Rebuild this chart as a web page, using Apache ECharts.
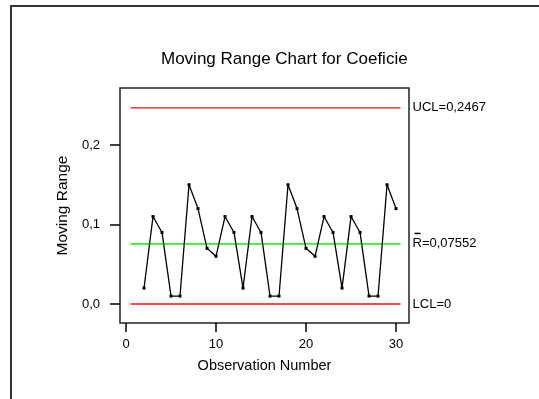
<!DOCTYPE html>
<html>
<head>
<meta charset="utf-8">
<script src="https://cdn.jsdelivr.net/npm/echarts@6/dist/echarts.min.js"></script>
<style>
  html, body { margin: 0; padding: 0; background: #fff; }
  #chart { width: 539px; height: 399px; }
</style>
</head>
<body>
<div id="chart"></div>
<script>
// observation numbers and moving ranges
const obs = [2, 3, 4, 5, 6, 7, 8, 9, 10, 11, 12, 13, 14, 15, 16, 17, 18, 19, 20, 21, 22, 23, 24, 25, 26, 27, 28, 29, 30];
const movingRange = [0.02, 0.11, 0.09, 0.01, 0.01, 0.15, 0.12, 0.07, 0.06, 0.11, 0.09, 0.02, 0.11, 0.09, 0.01,
  0.01, 0.15, 0.12, 0.07, 0.06, 0.11, 0.09, 0.02, 0.11, 0.09, 0.01, 0.01, 0.15, 0.12];

// control limits
const ucl = 0.2467;
const rBar = 0.07552;
const lcl = 0;
const limitSpan = [0.5, 30.5];

const xTicks = [0, 10, 20, 30];
const yTicks = [0, 0.1, 0.2];

const font = "'Liberation Sans', Arial, sans-serif";
const chart = echarts.init(document.getElementById("chart"));

const limitLine = (value, color, width, label, offset) => ({
  type: "line",
  data: limitSpan.map((x) => [x, value]),
  symbol: "none",
  silent: true,
  lineStyle: { color: color, width: width },
  endLabel: {
    show: true,
    formatter: label,
    distance: 12,
    offset: offset || [0, 0],
    color: "#000",
    fontSize: 13,
    fontFamily: font,
    rich: {
      // little bar drawn over the R
      sp: { width: 2, lineHeight: 4, fontSize: 4 },
      bar: { width: 6, height: 1.5, lineHeight: 4, fontSize: 4, backgroundColor: "#000" },
      txt: { fontSize: 13, fontFamily: font, color: "#000", lineHeight: 15 },
    },
  },
  z: 2,
});

chart.setOption({
  animation: false,
  backgroundColor: "#fff",
  title: {
    text: "Moving Range Chart for Coeficie",
    left: 156,
    top: 46,
    textStyle: { fontSize: 17, fontWeight: "normal", color: "#000", fontFamily: font },
  },
  graphic: [
    {
      type: "rect",
      shape: { x: 11, y: 6, width: 600, height: 500 },
      style: { fill: "none", stroke: "#333", lineWidth: 2 },
      silent: true,
    },
  ],
  grid: {
    left: 120,
    right: 130,
    top: 88,
    bottom: 76,
    show: true,
    borderColor: "#222",
    borderWidth: 1.5,
  },
  xAxis: {
    type: "value",
    min: -0.667,
    max: 31.44,
    name: "Observation Number",
    nameLocation: "middle",
    nameGap: 35,
    nameTextStyle: { fontSize: 14.5, color: "#000", fontFamily: font },
    axisLine: { show: false, onZero: false },
    splitLine: { show: false },
    axisTick: {
      show: true,
      length: 9,
      customValues: xTicks,
      lineStyle: { color: "#000", width: 1.5 },
    },
    axisLabel: {
      customValues: xTicks,
      margin: 15,
      fontSize: 13,
      color: "#000",
      fontFamily: font,
    },
  },
  yAxis: {
    type: "value",
    min: -0.0239,
    max: 0.2717,
    name: "Moving Range",
    nameLocation: "middle",
    nameGap: 46,
    nameTextStyle: { fontSize: 15.5, color: "#000", fontFamily: font },
    axisLine: { show: false, onZero: false },
    splitLine: { show: false },
    axisTick: {
      show: true,
      length: 10,
      customValues: yTicks,
      lineStyle: { color: "#000", width: 1.5 },
    },
    axisLabel: {
      customValues: yTicks,
      margin: 20,
      fontSize: 13,
      color: "#000",
      fontFamily: font,
      formatter: (v) => v.toFixed(1).replace(".", ","),
    },
  },
  series: [
    limitLine(ucl, "#f01010", 1.3, "UCL=0,2467"),
    limitLine(rBar, "#33ee33", 1.7, "{sp| }{bar| }\n{txt|R=0,07552}", [0, -3]),
    limitLine(lcl, "#f01010", 1.3, "LCL=0"),
    {
      type: "line",
      data: obs.map((x, i) => [x, movingRange[i]]),
      symbol: "rect",
      symbolSize: 3,
      itemStyle: { color: "#000" },
      lineStyle: { color: "#000", width: 1.3 },
      z: 3,
    },
  ],
});
</script>
</body>
</html>
